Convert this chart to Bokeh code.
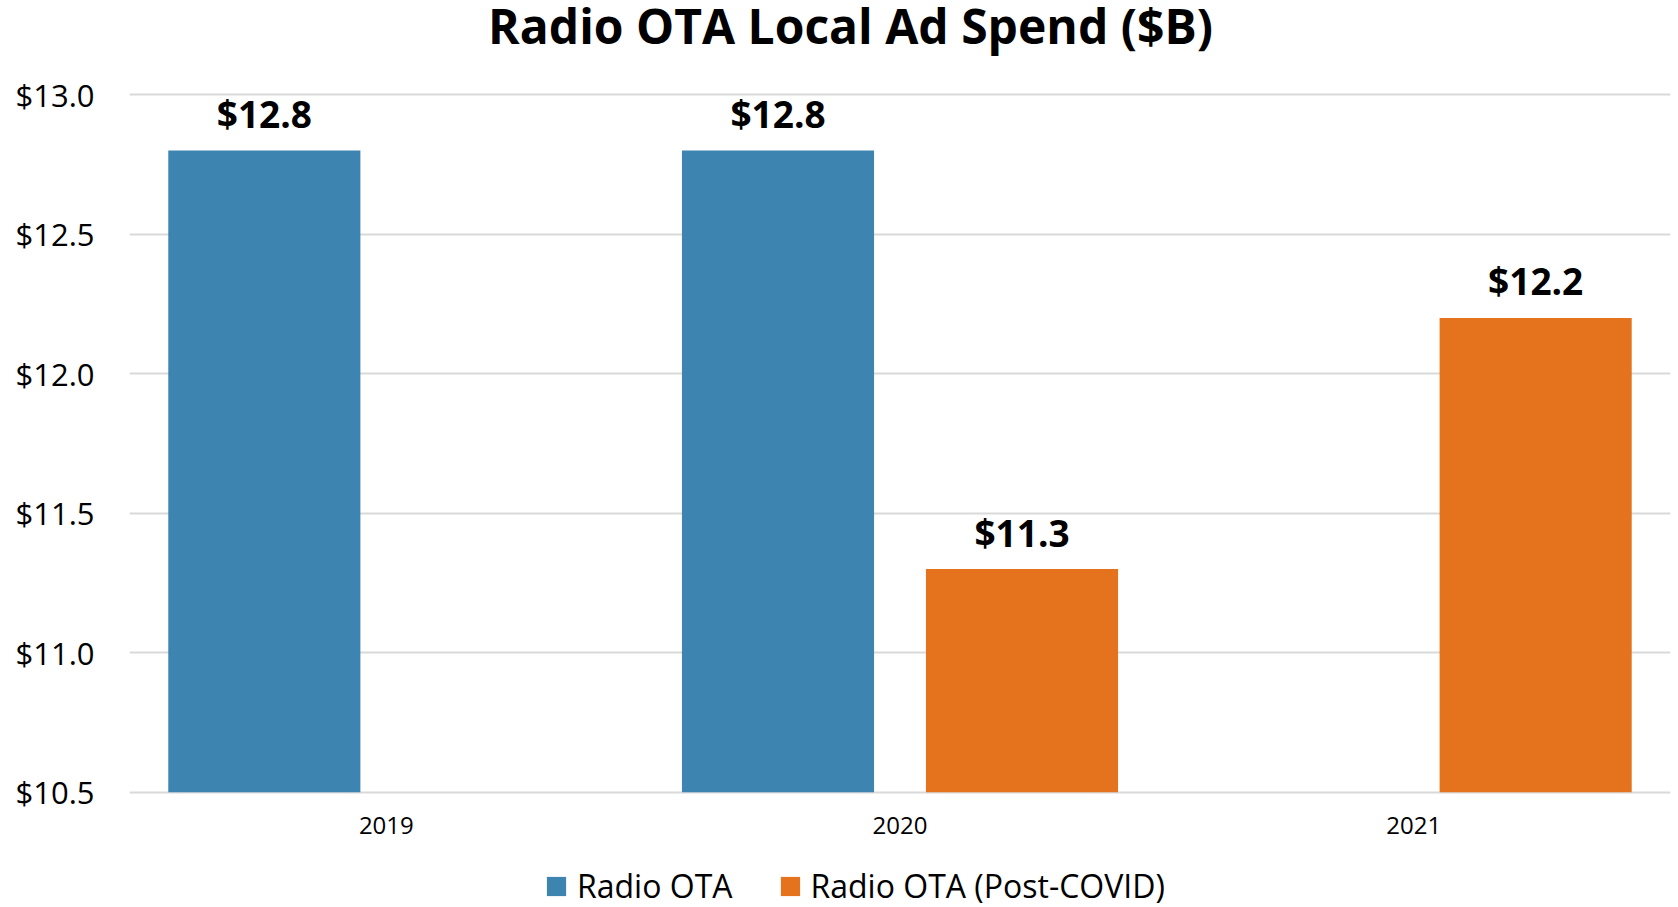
from bokeh.plotting import figure
from bokeh.models import (ColumnDataSource, FixedTicker, PrintfTickFormatter, Range1d,
                          Legend, LegendItem, Label)
from bokeh.transform import dodge
from bokeh.core.properties import value
from bokeh.embed import file_html
from bokeh.resources import INLINE

# ---- data ----
years = ["2019", "2020", "2021"]
radio_ota_years = ["2019", "2020"]
radio_ota_values = [12.8, 12.8]
post_covid_years = ["2020", "2021"]
post_covid_values = [11.3, 12.2]
y_ticks = [10.5, 11.0, 11.5, 12.0, 12.5, 13.0]
series_names = ["Radio OTA", "Radio OTA (Post-COVID)"]
title_text = "Radio OTA Local Ad Spend ($B)"

BLUE = "#3D85B0"
ORANGE = "#E5731E"
FONT = "Open Sans"

W, H = 1678, 907
y_base = 10.5
y_low = 10.0867
y_end = 13.338
PX_PER_UNIT = H / (y_end - y_low)

p = figure(x_range=years, y_range=Range1d(y_low, y_end), width=W, height=H,
           output_backend="svg", toolbar_location=None,
           min_border_left=129, min_border_right=8, min_border_top=0, min_border_bottom=0)
p.outline_line_color = None
p.background_fill_color = "white"
p.border_fill_color = "white"

src_a = ColumnDataSource(dict(year=radio_ota_years, val=radio_ota_values,
                              lab=["$%.1f" % v for v in radio_ota_values]))
src_b = ColumnDataSource(dict(year=post_covid_years, val=post_covid_values,
                              lab=["$%.1f" % v for v in post_covid_values]))

off = 0.2375
bw = 0.374
ra = p.vbar(x=dodge("year", -off, range=p.x_range), top="val", bottom=y_base, width=bw,
            source=src_a, fill_color=BLUE, line_color=None)
rb = p.vbar(x=dodge("year", off, range=p.x_range), top="val", bottom=y_base, width=bw,
            source=src_b, fill_color=ORANGE, line_color=None)

for src, o in ((src_a, -off), (src_b, off)):
    p.text(x=dodge("year", o, range=p.x_range), y="val", text="lab", source=src,
           text_align="center", text_baseline="alphabetic", y_offset=-37,
           text_font=value(FONT), text_font_style="bold", text_font_size="37px",
           text_color="black")

# axes
p.yaxis.ticker = FixedTicker(ticks=y_ticks)
p.yaxis.formatter = PrintfTickFormatter(format="$%.1f")
p.yaxis.axis_line_color = None
p.yaxis.major_tick_line_color = None
p.yaxis.minor_tick_line_color = None
p.yaxis.major_label_standoff = 29
p.yaxis.major_label_text_font = FONT
p.yaxis.major_label_text_font_size = "31px"
p.yaxis.major_label_text_color = "black"

p.xaxis.fixed_location = y_base
p.xaxis.axis_line_color = None
p.xaxis.major_tick_line_color = None
p.xaxis.minor_tick_line_color = None
p.xaxis.major_label_standoff = 19
p.xaxis.major_label_text_font = FONT
p.xaxis.major_label_text_font_size = "24px"
p.xaxis.major_label_text_color = "black"

p.xgrid.grid_line_color = None
p.ygrid.grid_line_color = "#D9D9D9"
p.ygrid.grid_line_width = 2

# title
p.add_layout(Label(x=1.4037, y=y_end - 25 / PX_PER_UNIT, text=title_text, text_align="center",
                   text_baseline="alphabetic", text_font=FONT, text_font_style="bold",
                   text_font_size="48px", text_color="black"))

legend = Legend(items=[LegendItem(label=series_names[0], renderers=[ra]),
                       LegendItem(label=series_names[1], renderers=[rb])],
                orientation="horizontal", location=(415, 0))
legend.glyph_width = 24
legend.glyph_height = 24
legend.label_standoff = 9
legend.spacing = 45
legend.padding = 0
legend.margin = 0
legend.border_line_color = None
legend.background_fill_alpha = 0
legend.label_text_font = FONT
legend.label_text_font_size = "32px"
legend.label_text_color = "black"
p.add_layout(legend, "center")

open("out.html", "w").write(file_html(p, INLINE))
